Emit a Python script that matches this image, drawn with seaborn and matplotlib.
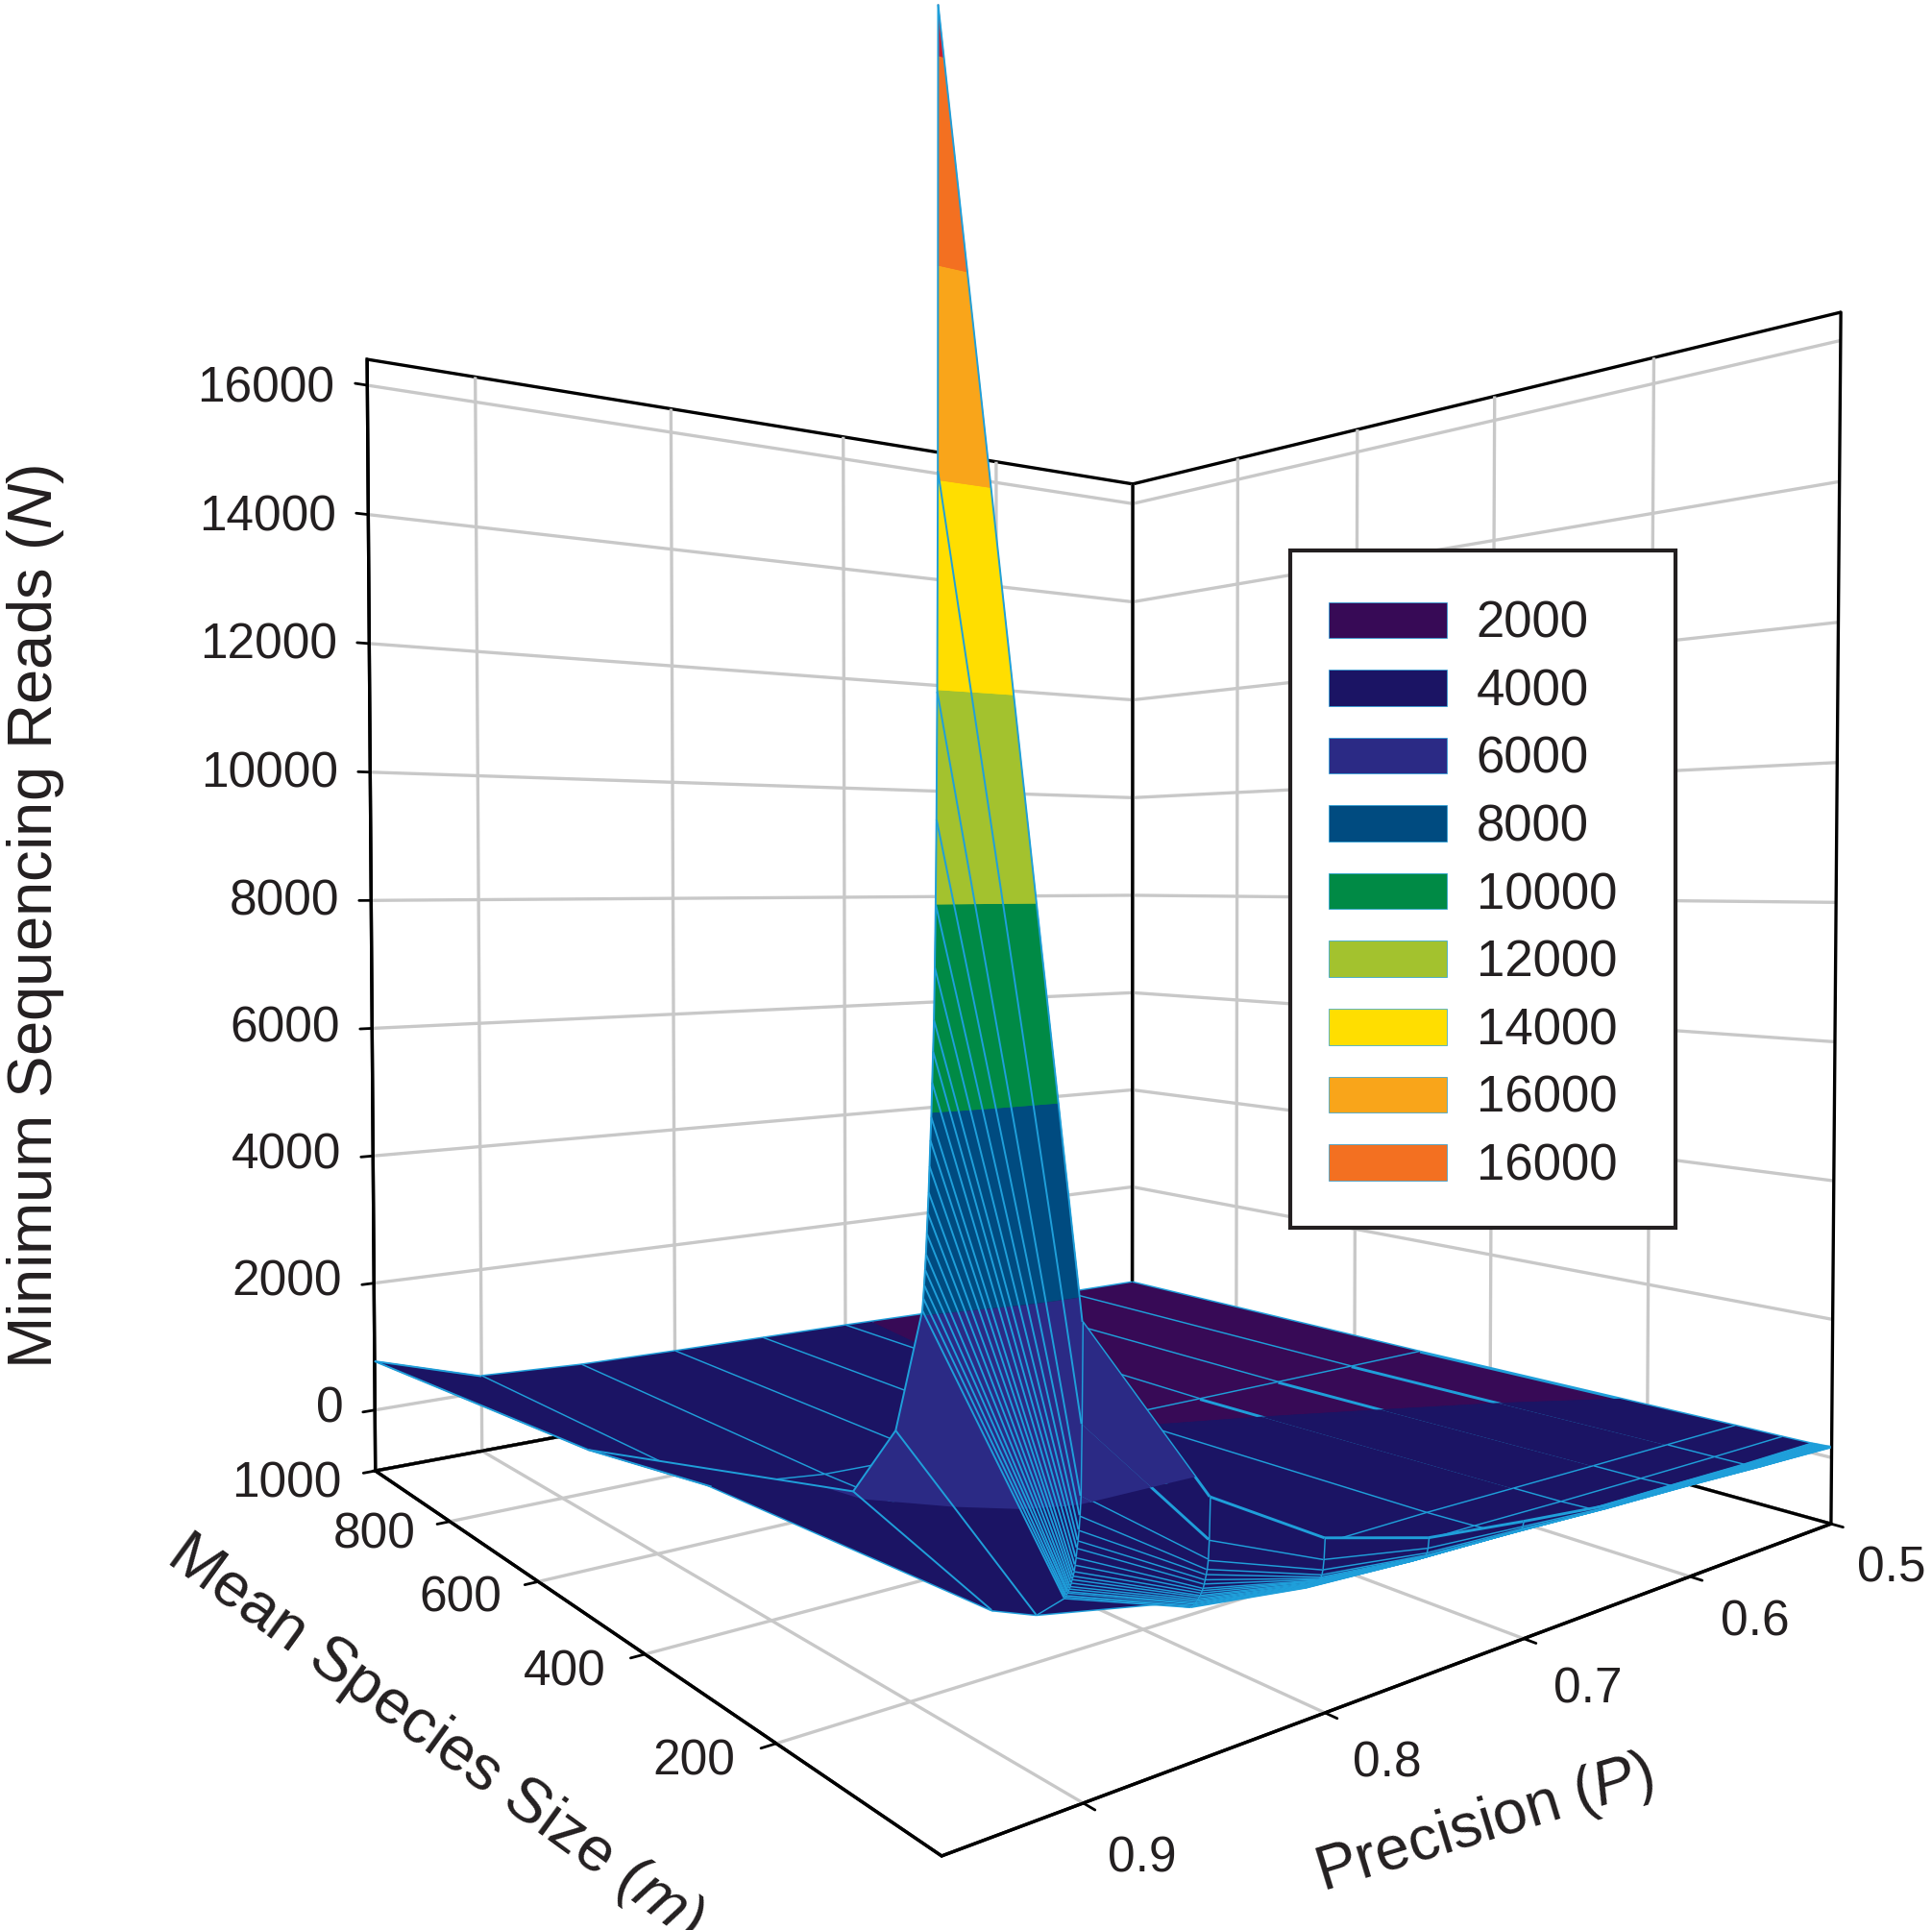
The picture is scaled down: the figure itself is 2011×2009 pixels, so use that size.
import seaborn as sns
import matplotlib
matplotlib.use("Agg")
import matplotlib.pyplot as plt
from matplotlib.colors import to_rgba
from matplotlib.patches import Patch, Rectangle
from matplotlib.transforms import ScaledTranslation
from mpl_toolkits.mplot3d.art3d import Line3DCollection, Poly3DCollection

# precision along the columns, mean species size along the rows
PRECISION = [0.5, 0.55, 0.6, 0.65, 0.7, 0.75, 0.8, 0.85, 0.9, 0.95]
SPECIES_SIZE = [1, 2, 3, 4, 5, 6, 7, 8, 9, 10, 11, 12, 13, 14, 15, 16, 17, 18, 19, 20, 50, 100, 500, 1000]
READS = [
    [150, 210, 290, 340, 480, 640, 1000, 1800, 3900, 16500],
    [148, 200, 270, 320, 420, 520, 760, 1340, 2870, 12170],
    [146, 190, 255, 305, 390, 460, 640, 1120, 2140, 10100],
    [145, 185, 245, 295, 370, 430, 580, 1020, 1940, 8900],
    [144, 180, 240, 285, 355, 415, 550, 960, 1790, 8100],
    [143, 176, 235, 280, 345, 400, 530, 900, 1680, 7500],
    [142, 172, 230, 272, 338, 390, 515, 850, 1600, 7000],
    [141, 168, 226, 266, 330, 380, 500, 800, 1500, 6700],
    [140, 165, 222, 260, 323, 372, 490, 770, 1420, 6400],
    [139, 162, 218, 255, 317, 365, 480, 740, 1350, 6070],
    [138, 160, 214, 250, 310, 355, 465, 710, 1300, 5850],
    [138, 157, 210, 245, 303, 347, 450, 690, 1260, 5600],
    [137, 155, 206, 240, 296, 339, 437, 665, 1220, 5350],
    [137, 153, 202, 234, 289, 331, 425, 645, 1180, 5150],
    [136, 151, 198, 229, 282, 323, 412, 625, 1150, 4950],
    [135, 149, 194, 224, 275, 315, 400, 605, 1120, 4750],
    [134, 147, 190, 220, 268, 307, 390, 590, 1100, 4600],
    [133, 146, 186, 215, 262, 300, 380, 570, 1070, 4450],
    [132, 144, 182, 210, 256, 292, 370, 555, 1050, 4320],
    [130, 143, 178, 207, 250, 285, 360, 540, 1030, 4200],
    [124, 139, 160, 185, 220, 240, 310, 440, 720, 2940],
    [120, 135, 150, 170, 190, 190, 220, 300, 540, 2150],
    [60, 65, 72, 80, 90, 100, 135, 180, 350, 1150],
    [25, 35, 50, 80, 110, 130, 150, 180, 260, 770],
]
BAND_EDGES = [-1e9, 100, 2050, 4150, 6115, 8095, 10115, 12080, 14080, 16025, 1e9]
BAND_COLORS = ["#370a56", "#1b1464", "#2b2a85", "#004b80", "#008a45", "#a3c22e",
               "#ffde00", "#f9a51a", "#f37021", "#c8202f"]
LEGEND_LABELS = ["2000", "4000", "6000", "8000", "10000", "12000", "14000", "16000", "16000"]
P_TICKS = [0.5, 0.6, 0.7, 0.8, 0.9]
M_TICKS = [200, 400, 600, 800, 1000]
Z_TICKS = [0, 2000, 4000, 6000, 8000, 10000, 12000, 14000, 16000]
WIRE = "#1f9fda"
ZB, ZT = -960, 16400

sns.set_theme(style="white", rc={"grid.color": "#c8c8c8", "grid.linewidth": 2.4,
                                 "xtick.color": "black", "ytick.color": "black",
                                 "xtick.bottom": True, "ytick.left": True,
                                 "xtick.major.width": 2.0, "ytick.major.width": 2.0,
                                 "xtick.labelcolor": "#231f20", "ytick.labelcolor": "#231f20",
                                 "text.color": "#231f20", "axes.labelcolor": "#231f20",
                                 "mathtext.fontset": "custom", "mathtext.rm": "Liberation Sans",
                                 "mathtext.it": "Liberation Sans:italic"})
plt.rcParams["font.family"] = ["Liberation Sans", "DejaVu Sans"]

fig = plt.figure(figsize=(20.11, 20.09), dpi=100)
ax = fig.add_subplot(projection="3d")
ax.view_init(1.196, -128.447)
ax.set_proj_type("persp", focal_length=0.2007)
ax.set_box_aspect((1.0751, 1.0784, 1.1998))
ax.set_position([0.0714, 0.0393, 0.9415, 0.9425])


def clip_z(poly, level, keep_above):
    out = []
    for a, b in zip(poly, poly[1:] + poly[:1]):
        ina = (a[2] >= level) if keep_above else (a[2] <= level)
        inb = (b[2] >= level) if keep_above else (b[2] <= level)
        if ina:
            out.append(a)
        if ina != inb:
            t = (level - a[2]) / (b[2] - a[2])
            out.append(tuple(a[n] + t * (b[n] - a[n]) for n in range(3)))
    return out


def nudge(artist, dx, dy):
    # offsets are in pixels of a 1568 wide view of the figure, y down
    # the 3d axis resets set_transform on every draw, so get_transform is replaced
    k = 1.2825 / 100
    moved = ax.transData + ScaledTranslation(dx * k, -dy * k, fig.dpi_scale_trans)
    artist.get_transform = lambda: moved


# cut every mesh cell at the colour levels, the surface is filled in flat bands
band_polys, band_cols, wires, front_wires = [], [], [], []
for j in range(len(SPECIES_SIZE) - 1):
    for i in range(len(PRECISION) - 1):
        quad = [(PRECISION[i + a], SPECIES_SIZE[j + b], READS[j + b][i + a]) for a, b in ((0, 0), (1, 0), (1, 1), (0, 1))]
        for k, col in enumerate(BAND_COLORS):
            piece = clip_z(quad, BAND_EDGES[k], True)
            if len(piece) >= 3:
                piece = clip_z(piece, BAND_EDGES[k + 1], False)
            if len(piece) >= 3:
                band_polys.append(piece)
                band_cols.append(to_rgba(col))
last = len(PRECISION) - 1
for j, m in enumerate(SPECIES_SIZE):
    for i, p in enumerate(PRECISION):
        if i < last:
            seg = [(p, m, READS[j][i]), (PRECISION[i + 1], m, READS[j][i + 1])]
            # nothing stands in front of the last strip
            (front_wires if i == last - 1 else wires).append(seg)
        if j + 1 < len(SPECIES_SIZE):
            seg = [(p, m, READS[j][i]), (p, SPECIES_SIZE[j + 1], READS[j + 1][i])]
            (front_wires if i == last else wires).append(seg)

ax.computed_zorder = False
base = Poly3DCollection(band_polys, facecolors=band_cols, edgecolors=band_cols, linewidths=0.7, zorder=1)
ax.add_collection3d(base, autolim=False)
clear = (0, 0, 0, 0)
top = Poly3DCollection(band_polys + wires,
                       facecolors=band_cols + [clear] * len(wires),
                       edgecolors=[clear] * len(band_polys) + [to_rgba(WIRE)] * len(wires),
                       linewidths=2.1, zorder=2)
ax.add_collection3d(top, autolim=False)
front = Line3DCollection(front_wires, colors=WIRE, linewidths=1.4, zorder=3)
ax.add_collection3d(front, autolim=False)
for coll in (base, top, front):
    coll.set_clip_on(False)

ax.set_xticks(P_TICKS, ["%.1f" % t for t in P_TICKS])
ax.set_yticks(M_TICKS, [str(t) for t in M_TICKS])
ax.set_zticks(Z_TICKS, [str(t) for t in Z_TICKS])
ax.set_xlim(0.95, 0.5, view_margin=0)
ax.set_ylim(0, 1000, view_margin=0)
ax.set_zlim(ZB, ZT, view_margin=0)
for axis in (ax.xaxis, ax.yaxis, ax.zaxis):
    axis.set_pane_color((1, 1, 1, 1))
    axis.pane.set_edgecolor("black")
    axis.pane.set_linewidth(2.4)
    axis.line.set_color("black")
    axis.line.set_linewidth(2.4)
    # with this view a positive factor would point the ticks into the box
    axis._axinfo["tick"]["inward_factor"] = 0
    axis._axinfo["tick"]["outward_factor"] = -0.15
    axis.set_rotate_label(False)

# box edges the panes leave open or the grid paints over
for xs, ys, zs in (([0.5, 0.5], [1000, 1000], [ZB, ZT]), ([0.5, 0.5], [0, 0], [ZB, ZT]),
                   ([0.95, 0.5], [1000, 1000], [ZB, ZB]), ([0.5, 0.5], [0, 1000], [ZB, ZB])):
    ax.plot(xs, ys, zs, color="black", linewidth=2.4, zorder=0.5)

ax.tick_params(axis="both", labelsize=37, pad=14)
ax.tick_params(axis="z", labelsize=37, pad=30)
for lab, (dx, dy) in zip(ax.get_xticklabels(), [(24, -20), (27, -23), (26, -23), (25, -29), (23, -32)]):
    nudge(lab, dx, dy)
for lab, (dx, dy) in zip(ax.get_yticklabels(), [(-35, -55), (-35, -49), (-35, -45), (-35, -44), (-47, -41)]):
    nudge(lab, dx, dy)
for lab in ax.get_zticklabels():
    lab.set_ha("right")
    nudge(lab, 32, -18)

ax.set_xlabel("Precision ($\\mathit{P}$)", fontsize=46, rotation=17, labelpad=70)
ax.set_ylabel("Mean Species Size ($\\mathit{m}$)", fontsize=47, rotation=-36, labelpad=70)
ax.set_zlabel("Minimum Sequencing Reads ($\\mathit{N}$)", fontsize=47, rotation=90, labelpad=160)
nudge(ax.xaxis.label, -107, -68)
nudge(ax.yaxis.label, 0, -82)

# frame of the key, the entries sit in it with no padding of their own
fig.add_artist(Rectangle((1047 / 1568, 1 - 996 / 1566), 313 / 1568, 549 / 1566, transform=fig.transFigure,
                         facecolor="white", edgecolor="#231f20", linewidth=3, zorder=4))
handles = [Patch(facecolor=c, edgecolor=WIRE, linewidth=0.5) for c in BAND_COLORS[:9]]
fig.legend(handles, LEGEND_LABELS, loc="upper left", bbox_to_anchor=(1078 / 1568, 1 - 487 / 1566),
           fontsize=38, frameon=False, borderaxespad=0, borderpad=0,
           handlelength=2.33, handleheight=0.72, handletextpad=0.59, labelspacing=0.39)

fig.savefig("out.png", dpi=100)
